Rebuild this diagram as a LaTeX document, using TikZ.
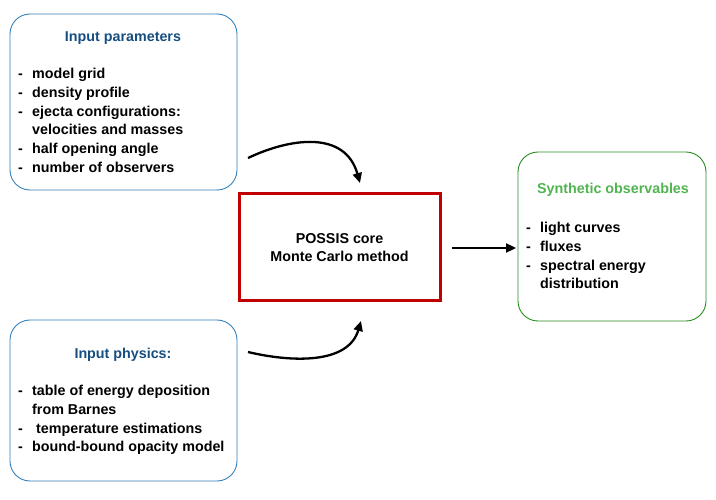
\documentclass[tikz,border=0pt]{standalone}
\usepackage{fontspec}
\setmainfont{Liberation Sans}
\usetikzlibrary{arrows.meta}
\definecolor{boxblue}{RGB}{52,128,184}
\definecolor{titleblue}{RGB}{22,78,130}
\definecolor{coreRed}{RGB}{192,0,0}
\definecolor{boxgreen}{RGB}{40,140,30}
\definecolor{titlegreen}{RGB}{80,180,80}
\tikzset{
  panel/.style={draw, rounded corners=20pt, line width=0.9pt},
  ttl/.style={font=\fontsize{14.3}{16}\selectfont\bfseries, anchor=center},
  item/.style={font=\fontsize{14.3}{18.8}\selectfont\bfseries, anchor=north west, align=left, inner sep=0pt},
  conn/.style={line width=2.3pt, -{Triangle[length=10pt,width=9pt]}},
}
\begin{document}
\begin{tikzpicture}[x=1pt,y=-1pt]
\useasboundingbox (0,0) rectangle (716,500);
% Input parameters
\draw[panel, boxblue] (10,14) rectangle (237,190);
\node[ttl, text=titleblue] (ptitle) at (123,38) {Input parameters};
\node[item] (plist) at (18,68) {%
\makebox[14pt][l]{-}model grid\\
\makebox[14pt][l]{-}density profile\\
\makebox[14pt][l]{-}ejecta configurations:\\
\makebox[14pt][l]{}velocities and masses\\
\makebox[14pt][l]{-}half opening angle\\
\makebox[14pt][l]{-}number of observers};
% Input physics
\draw[panel, boxblue] (10,320) rectangle (237,481);
\node[ttl, text=titleblue] (phtitle) at (123,355) {Input physics:};
\node[item] (phlist) at (18,385) {%
\makebox[14pt][l]{-}table of energy deposition\\
\makebox[14pt][l]{}from Barnes\\
\makebox[14pt][l]{-} temperature estimations\\
\makebox[14pt][l]{-}bound-bound opacity model};
% Core
\node[draw=coreRed, line width=3pt, minimum width=201pt, minimum height=107pt, inner sep=0pt,
  align=center, font=\fontsize{14.3}{18.5}\selectfont\bfseries] (core) at (339.5,247.5) {POSSIS core\\Monte Carlo method};
% Synthetic observables
\draw[panel, boxgreen] (518,152) rectangle (706,321);
\node[ttl, text=titlegreen] (stitle) at (613,190) {Synthetic observables};
\node[item] (slist) at (526,222) {%
\makebox[14pt][l]{-}light curves\\
\makebox[14pt][l]{-}fluxes\\
\makebox[14pt][l]{-}spectral energy\\
\makebox[14pt][l]{}distribution};
% connectors
\coordinate (a1) at (248,158);
\coordinate (a2) at (360,183);
\coordinate (b1) at (248,352);
\coordinate (b2) at (361,321);
\coordinate (c1) at (452,248);
\coordinate (c2) at (516,248);
\draw[conn] (a1) .. controls (290,138) and (345,130) .. (a2);
\draw[conn] (b1) .. controls (290,362) and (348,365) .. (b2);
\draw[conn] (c1) -- (c2);
\end{tikzpicture}
\end{document}
